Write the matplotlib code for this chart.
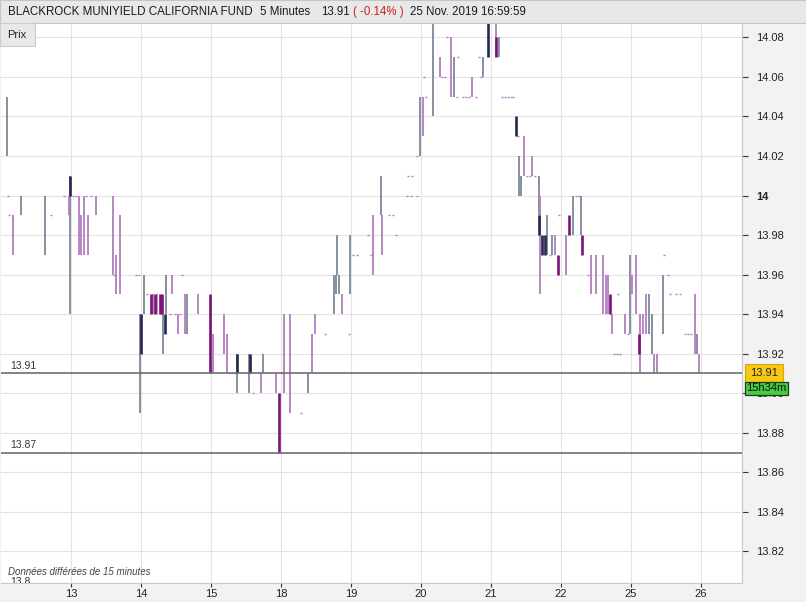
import numpy as np
import matplotlib
matplotlib.use('Agg')
import matplotlib.pyplot as plt
from matplotlib.patches import Rectangle

plt.rcParams['font.family'] = ['Liberation Sans', 'DejaVu Sans']

W, H = 806, 602

title_name = 'BLACKROCK MUNIYIELD CALIFORNIA FUND'
title_period = '5 Minutes'
title_last = '13.91'
title_change = '( -0.14% )'
title_time = '25 Nov. 2019 16:59:59'

day_labels = ['13', '14', '15', '18', '19', '20', '21', '22', '25', '26']
bars_per_day = 78
y_ticks = [13.82, 13.84, 13.86, 13.88, 13.90, 13.92, 13.94, 13.96, 13.98,
           14.00, 14.02, 14.04, 14.06, 14.08]
last_price = 13.91
low_price = 13.87
countdown = '15h34m'

# 5 minute bars: bar number since first open, low, high, kind
# g = up (grey), p = down (purple), n = up body, m = down body
bar_n = [7, 8, 9, 13, 22, 49, 56, 70, 76, 77, 77,
         80, 84, 87, 89, 92, 95, 97, 100, 106, 125, 126, 128, 133, 150, 154, 155, 156,
         159, 163, 167, 169, 172, 174, 177, 179, 181, 183, 184, 188, 191, 194, 197, 199, 202, 205, 207, 220, 233,
         236, 249, 252, 254, 257, 261, 263, 263, 276, 278, 281, 290, 292, 306, 310,
         313, 315, 322, 334, 342, 347, 350, 361, 371, 373, 374, 377, 380, 388, 389,
         392, 397, 409, 412, 415, 423, 424, 432, 437, 440, 452, 453, 457, 458, 463, 464,
         467, 470, 471, 474, 481, 489, 491, 495, 497, 501, 505, 508, 509, 515, 518, 521, 525, 529, 533, 535, 537, 543,
         552, 552, 555, 558, 562, 565, 568, 571, 574, 576, 577, 579, 583, 586, 590, 592, 595, 599, 600, 601, 603, 606, 608, 612, 614, 617, 621,
         622, 630, 633, 637, 641, 644, 646, 647, 654, 657, 663, 671, 674, 676, 679, 681, 683, 686, 687, 690, 695, 699, 701,
         703, 708, 711, 712, 715, 719, 722, 725, 728, 731, 738, 739, 743, 746, 752, 757, 762, 766, 769, 773, 776, 778]
bar_lo = [14.02, 14.00, 13.99, 13.97, 13.99, 13.97, 13.99, 14.00, 13.99, 13.94, 14.00,
          14.00, 14.00, 13.97, 13.97, 13.97, 14.00, 13.97, 14.00, 13.99, 13.96, 13.96, 13.95, 13.95, 13.96, 13.96, 13.89, 13.92,
          13.94, 13.95, 13.94, 13.94, 13.94, 13.94, 13.94, 13.94, 13.92, 13.93, 13.94, 13.94, 13.95, 13.94, 13.93, 13.94, 13.96, 13.93, 13.93, 13.94, 13.91,
          13.91, 13.92, 13.91, 13.91, 13.91, 13.91, 13.90, 13.91, 13.90, 13.91, 13.90, 13.90, 13.91, 13.90, 13.87,
          13.91, 13.90, 13.89, 13.89, 13.90, 13.91, 13.93, 13.93, 13.94, 13.95, 13.96, 13.95, 13.94, 13.93, 13.95,
          13.97, 13.97, 13.98, 13.97, 13.96, 13.99, 13.97, 13.99, 13.99, 13.98, 14.00, 14.01, 14.00, 14.01, 14.00, 14.02,
          14.02, 14.03, 14.06, 14.05, 14.04, 14.06, 14.06, 14.06, 14.08, 14.05, 14.05, 14.05, 14.07, 14.05, 14.05, 14.05, 14.05, 14.05, 14.07, 14.06, 14.06, 14.07,
          14.07, 14.07, 14.07, 14.05, 14.05, 14.05, 14.05, 14.05, 14.03, 14.03, 14.00, 14.00, 14.01, 14.01, 14.01, 14.01, 14.01, 13.99, 13.98, 13.95, 13.97, 13.97, 13.97, 13.97, 13.97, 13.97, 13.96,
          13.99, 13.96, 13.98, 13.98, 14.00, 14.00, 13.98, 13.97, 13.96, 13.95, 13.95, 13.94, 13.94, 13.94, 13.94, 13.93, 13.92, 13.92, 13.95, 13.92, 13.93, 13.93, 13.93,
          13.95, 13.94, 13.92, 13.91, 13.93, 13.93, 13.93, 13.92, 13.91, 13.91, 13.93, 13.97, 13.96, 13.95, 13.95, 13.95, 13.93, 13.93, 13.93, 13.92, 13.92, 13.91]
bar_hi = [14.05, 14.00, 13.99, 13.99, 14.00, 14.00, 13.99, 14.00, 14.00, 14.01, 14.01,
          14.00, 14.00, 14.00, 13.99, 14.00, 14.00, 13.99, 14.00, 14.00, 14.00, 13.96, 13.97, 13.99, 13.96, 13.96, 13.94, 13.94,
          13.96, 13.95, 13.95, 13.95, 13.95, 13.95, 13.95, 13.95, 13.94, 13.94, 13.96, 13.94, 13.96, 13.94, 13.94, 13.94, 13.96, 13.95, 13.95, 13.95, 13.95,
          13.93, 13.94, 13.93, 13.91, 13.91, 13.91, 13.92, 13.92, 13.92, 13.92, 13.90, 13.91, 13.92, 13.91, 13.90,
          13.91, 13.94, 13.94, 13.89, 13.91, 13.93, 13.94, 13.93, 13.96, 13.96, 13.98, 13.96, 13.95, 13.93, 13.98,
          13.97, 13.97, 13.98, 13.97, 13.99, 14.01, 13.99, 13.99, 13.99, 13.98, 14.00, 14.01, 14.00, 14.01, 14.00, 14.02,
          14.05, 14.05, 14.06, 14.05, 14.09, 14.07, 14.06, 14.06, 14.08, 14.08, 14.07, 14.05, 14.07, 14.05, 14.05, 14.05, 14.06, 14.05, 14.07, 14.06, 14.07, 14.09,
          14.09, 14.08, 14.08, 14.05, 14.05, 14.05, 14.05, 14.05, 14.04, 14.03, 14.02, 14.01, 14.03, 14.01, 14.01, 14.02, 14.01, 14.01, 13.99, 14.00, 13.98, 13.98, 13.99, 13.97, 13.98, 13.98, 13.97,
          13.99, 13.98, 13.99, 14.00, 14.00, 14.00, 14.00, 13.98, 13.96, 13.97, 13.97, 13.97, 13.96, 13.96, 13.95, 13.94, 13.92, 13.92, 13.95, 13.92, 13.94, 13.93, 13.97,
          13.96, 13.97, 13.93, 13.94, 13.94, 13.95, 13.95, 13.94, 13.92, 13.92, 13.96, 13.97, 13.96, 13.95, 13.95, 13.95, 13.93, 13.93, 13.93, 13.95, 13.93, 13.92]
bar_kind = ('gpppggpppgn' + 'pppppppppppppppgn' + 'gpmpmpmmgngpppppppgpm' + 'ppppppgngnppgpm'
            + 'ppppgpppggggppg' + 'pppppgpppppppppp' + 'gpppgpppppgpppppppppgn'
            + 'pmgpppppnpggpppppgnpnngpgpm' + 'ppmgppgmppppppmpppppppg' + 'ppmpppggppgpppppppppgp')

colors = {'g': '#7b8896', 'p': '#b47cc0', 'n': '#26264f', 'm': '#7a1276'}

fig = plt.figure(figsize=(W / 100, H / 100), dpi=100, facecolor='#f2f2f2')
ax = fig.add_axes([1 / W, 19 / H, 741 / W, 560 / H], facecolor='white')

n = np.array(bar_n)
lo = np.array(bar_lo)
hi = np.array(bar_hi)
kind = np.array(list(bar_kind))

for k in ['g', 'p', 'n', 'm']:
    sel = (kind == k) & (hi > lo)
    lw = 1.3 if k in 'gp' else 1.9
    ax.vlines(n[sel], lo[sel], hi[sel], colors=colors[k], lw=lw, zorder=3 if k in 'gp' else 4)
    flat = (kind == k) & (hi == lo)
    if flat.any():
        ax.plot(n[flat], lo[flat], ls='none', marker='_', ms=1.6, mew=1.0,
                color=colors[k], zorder=3)

# reference price lines
for p in [last_price, low_price]:
    ax.axhline(p, color='#6e6e6e', lw=1.2, zorder=5)
    ax.text(0.012, p + 0.0015, '%.2f' % p, transform=ax.get_yaxis_transform(),
            fontsize=7.5, color='#333333', va='bottom', ha='left', zorder=6)

ax.set_ylim(13.804, 14.0873)
ax.set_xlim(0, 741 * bars_per_day / 70)

ax.yaxis.tick_right()
ax.set_yticks(y_ticks)
ylabels = ['14' if abs(v - 14) < 1e-9 else ('%.2f' % v) for v in y_ticks]
ax.set_yticklabels(ylabels)
for t in ax.get_yticklabels():
    if t.get_text() == '14':
        t.set_fontweight('bold')
ax.tick_params(axis='y', labelsize=8, colors='#333333', length=4, width=0.8, pad=6)

xt = [bars_per_day * (i + 1) for i in range(len(day_labels))]
ax.set_xticks(xt)
ax.set_xticklabels(day_labels)
ax.tick_params(axis='x', labelsize=8, colors='#333333', length=3, width=0.8, pad=1.5)
for t in ax.get_xticklabels() + ax.get_yticklabels():
    t.set_color('#222222')

ax.grid(True, color='#e3e3e3', lw=0.8, zorder=0)
ax.set_axisbelow(True)
for s in ['top', 'left']:
    ax.spines[s].set_visible(False)
for s in ['right', 'bottom']:
    ax.spines[s].set_color('#c8c8c8')
    ax.spines[s].set_linewidth(0.8)

# stray lower tick label at left
ax.text(0.012, 13.8072, '13.8', transform=ax.get_yaxis_transform(), fontsize=7.5,
        color='#333333', va='top', ha='left', clip_on=True)

ax.text(0.009, 0.02, 'Données différées de 15 minutes', transform=ax.transAxes,
        fontsize=7, style='italic', color='#444444', va='center', ha='left')

# last price and countdown tags on the price scale
ax.text(1.0297, last_price, title_last, transform=ax.get_yaxis_transform(),
        fontsize=8, color='#222222', ha='center', va='center', zorder=10, clip_on=False,
        bbox=dict(boxstyle='square,pad=0.42', facecolor='#f6c916', edgecolor='#d8a800', lw=0.8))
ax.text(1.0325, last_price - 0.0076, countdown, transform=ax.get_yaxis_transform(),
        fontsize=8, color='#111111', ha='center', va='center', zorder=10, clip_on=False,
        bbox=dict(boxstyle='square,pad=0.12', facecolor='#44cc44', edgecolor='#1d3d1d', lw=0.9))

# title bar
fig.add_artist(Rectangle((0, 1 - 23 / H), 1, 23 / H, transform=fig.transFigure,
                         facecolor='#e8e8e8', edgecolor='#c6c6c6', lw=0.8))
ty = 1 - 12 / H
fig.text(8 / W, ty, title_name, fontsize=8.3, color='#1a1a1a', va='center')
fig.text(260 / W, ty, title_period, fontsize=8.3, color='#1a1a1a', va='center')
fig.text(321 / W, ty, title_last, fontsize=8.3, color='#1a1a1a', va='center')
fig.text(353 / W, ty, title_change, fontsize=8.3, color='#cc2222', va='center')
fig.text(410 / W, ty, title_time, fontsize=8.3, color='#1a1a1a', va='center')

# "Prix" tab
fig.add_artist(Rectangle((0, 1 - 46 / H), 35 / W, 23 / H, transform=fig.transFigure,
                         facecolor='#e8e8e8', edgecolor='#cccccc', lw=0.8))
fig.text(17 / W, 1 - 35 / H, 'Prix', fontsize=8, color='#222222', va='center', ha='center')

fig.savefig('out.png', dpi=100, facecolor=fig.get_facecolor())
